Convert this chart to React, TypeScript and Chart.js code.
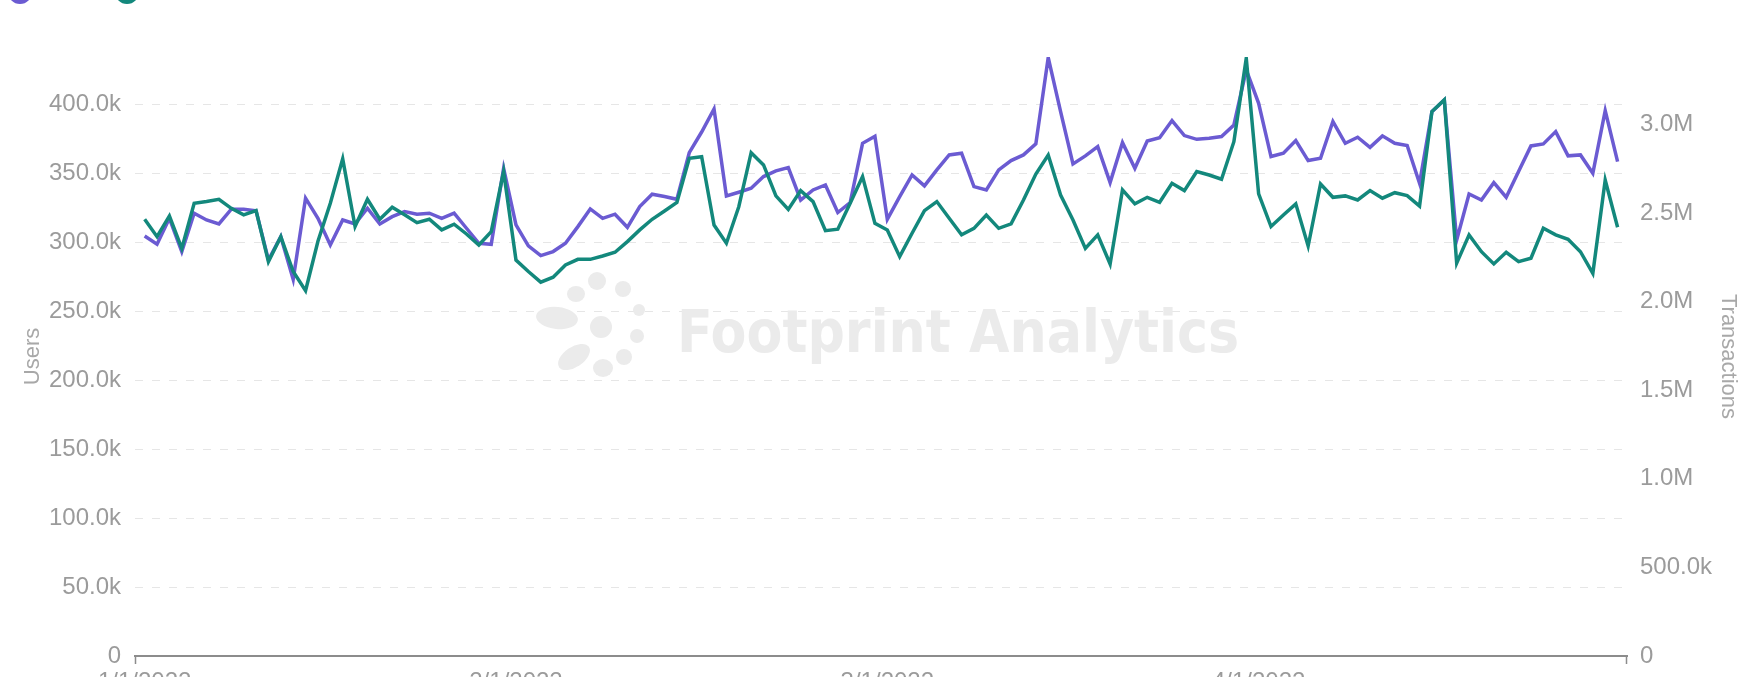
import React, { useEffect, useRef } from 'react';
import { Chart, registerables } from 'chart.js';

Chart.register(...registerables);

// Daily users (left axis)
const USERS = [
  304600, 298600, 317400, 293300, 321100, 316200, 313300, 324000, 324000, 322800,
  287200, 304100, 273200, 332000, 317400, 298100, 316200, 313300, 324700, 313300,
  318600, 322300, 320400, 321100, 317400, 321100, 310200, 299300, 298600, 353700,
  312600, 297400, 290400, 293300, 299300, 311400, 324200, 317400, 320400, 310900,
  325900, 334900, 333200, 331200, 365000, 380000, 396700, 333600, 336300, 339200,
  347700, 351800, 354200, 330700, 338000, 341600, 321600, 328800, 371800, 376900,
  316700, 333200, 348900, 340900, 352500, 363400, 364600, 340400, 338000, 352500,
  359300, 363400, 371400, 434000, 394800, 356900, 362700, 369400, 343300, 372300,
  353700, 373500, 375900, 388300, 377400, 374700, 375400, 376700, 385100, 425000,
  400800, 362200, 364600, 373800, 359300, 361000, 387600, 371800, 376200, 368900,
  377200, 371800, 370200, 342800, 394800, 403300, 301700, 335100, 330700, 343300,
  332700, 351300, 369900, 371400, 380300, 362700, 363400, 350100, 395500, 358500,
];

// Daily transactions (right axis)
const TRANSACTIONS = [
  2465000, 2367000, 2484000, 2301000, 2555000, 2565000, 2578000, 2527000, 2490000, 2514000,
  2226000, 2367000, 2170000, 2062000, 2341000, 2555000, 2806000, 2424000, 2578000, 2465000,
  2533000, 2490000, 2446000, 2465000, 2405000, 2437000, 2382000, 2320000, 2395000, 2734000,
  2235000, 2170000, 2110000, 2138000, 2207000, 2239000, 2239000, 2258000, 2279000, 2339000,
  2405000, 2465000, 2512000, 2560000, 2809000, 2818000, 2433000, 2330000, 2536000, 2841000,
  2772000, 2597000, 2521000, 2627000, 2565000, 2401000, 2409000, 2555000, 2706000, 2442000,
  2405000, 2254000, 2386000, 2514000, 2565000, 2471000, 2377000, 2414000, 2489000, 2414000,
  2439000, 2574000, 2720000, 2828000, 2602000, 2461000, 2301000, 2377000, 2213000, 2631000,
  2552000, 2589000, 2561000, 2668000, 2627000, 2734000, 2715000, 2691000, 2903000, 3374000,
  2608000, 2424000, 2489000, 2552000, 2314000, 2664000, 2589000, 2597000, 2574000, 2627000,
  2584000, 2615000, 2599000, 2540000, 3073000, 3139000, 2217000, 2377000, 2282000, 2213000,
  2279000, 2226000, 2245000, 2414000, 2377000, 2352000, 2282000, 2160000, 2687000, 2420000,
];

const SERIES_NAMES = ['Users', 'Transactions'];
const SERIES_COLORS = ['#6B5BD2', '#13887C'];

const X_TICK_INDEX = [0, 30, 60, 90];
const X_TICK_LABELS = ['1/1/2022', '2/1/2022', '3/1/2022', '4/1/2022'];

const USERS_TICKS = [0, 50000, 100000, 150000, 200000, 250000, 300000, 350000, 400000];
const TX_TICKS = [0, 500000, 1000000, 1500000, 2000000, 2500000, 3000000];
const USERS_MAX = 434400;
const TX_MAX = 3381000;

const FONT_FAMILY = '"Liberation Sans", Arial, Helvetica, sans-serif';
const TICK_COLOR = '#9b9b9b';

function fmt(v: number): string {
  if (v === 0) return '0';
  if (v >= 1000000) return (v / 1000000).toFixed(1) + 'M';
  return (v / 1000).toFixed(1) + 'k';
}

const watermarkPlugin = {
  id: 'watermark',
  beforeDatasetsDraw(chart: any) {
    const ctx = chart.ctx as CanvasRenderingContext2D;
    ctx.save();
    ctx.fillStyle = '#ebebeb';
    const petals: [number, number, number, number, number][] = [
      [601, 327, 11, 11, 0],
      [557, 318, 21, 11, 0.1],
      [574, 357, 18, 10, -0.6],
      [603, 368, 10, 9, 0],
      [576, 294, 9, 8, 0],
      [597, 281, 9, 9, 0],
      [623, 289, 8, 8, 0],
      [639, 310, 6, 6, 0],
      [637, 336, 7, 7, 0],
      [624, 357, 8, 8, 0],
    ];
    for (const [x, y, rx, ry, rot] of petals) {
      ctx.beginPath();
      ctx.ellipse(x, y, rx, ry, rot, 0, Math.PI * 2);
      ctx.fill();
    }
    const text = 'Footprint Analytics';
    ctx.font = 'bold 58px "DejaVu Sans", sans-serif';
    const w = ctx.measureText(text).width;
    const target = 562;
    ctx.translate(677, 352);
    ctx.scale(target / w, 1);
    ctx.textBaseline = 'alphabetic';
    ctx.fillText(text, 0, 0);
    ctx.restore();
  },
};

const endTicksPlugin = {
  id: 'endTicks',
  afterDraw(chart: any) {
    const { ctx, chartArea } = chart;
    const { left, right, bottom } = chartArea;
    ctx.save();
    ctx.strokeStyle = '#8c8c8c';
    ctx.lineWidth = 1.5;
    ctx.beginPath();
    ctx.moveTo(left + 0.5, bottom);
    ctx.lineTo(left + 0.5, bottom + 8);
    ctx.moveTo(right - 0.5, bottom);
    ctx.lineTo(right - 0.5, bottom + 8);
    ctx.stroke();
    ctx.restore();
  },
};

export default function App() {
  const canvasRef = useRef<HTMLCanvasElement | null>(null);

  useEffect(() => {
    if (!canvasRef.current) return;
    const tickFont = { family: FONT_FAMILY, size: 24 };
    const chart = new Chart(canvasRef.current, {
      type: 'line',
      data: {
        datasets: [
          {
            label: SERIES_NAMES[0],
            data: USERS.map((y, i) => ({ x: i, y })),
            yAxisID: 'y',
            borderColor: SERIES_COLORS[0],
            backgroundColor: SERIES_COLORS[0],
            borderWidth: 3.5,
            pointRadius: 0,
            tension: 0,
            order: 1,
          },
          {
            label: SERIES_NAMES[1],
            data: TRANSACTIONS.map((y, i) => ({ x: i, y })),
            yAxisID: 'y1',
            borderColor: SERIES_COLORS[1],
            backgroundColor: SERIES_COLORS[1],
            borderWidth: 3.5,
            pointRadius: 0,
            tension: 0,
            order: 0,
          },
        ],
      },
      options: {
        animation: false,
        responsive: true,
        maintainAspectRatio: false,
        layout: { padding: { top: 57, left: 0, right: 0, bottom: 0 } },
        plugins: { legend: { display: false }, tooltip: { enabled: false } },
        scales: {
          x: {
            type: 'linear',
            min: -0.78,
            max: 119.76,
            grid: { display: false, drawTicks: false },
            border: { display: true, color: '#8c8c8c', width: 2 },
            afterBuildTicks: (s: any) => {
              s.ticks = X_TICK_INDEX.map((v) => ({ value: v }));
            },
            afterFit: (s: any) => {
              s.height = 64;
            },
            ticks: {
              autoSkip: false,
              maxRotation: 0,
              minRotation: 0,
              padding: 12,
              color: TICK_COLOR,
              font: tickFont,
              callback: (v: any) => {
                const k = X_TICK_INDEX.indexOf(Number(v));
                return k >= 0 ? X_TICK_LABELS[k] : '';
              },
            },
          },
          y: {
            position: 'left',
            min: 0,
            max: USERS_MAX,
            afterBuildTicks: (s: any) => {
              s.ticks = USERS_TICKS.map((v) => ({ value: v }));
            },
            afterFit: (s: any) => {
              s.width = 135;
            },
            grid: { color: '#e6e6e6', lineWidth: 1, drawTicks: false },
            border: { display: false, dash: [8, 9] },
            ticks: {
              padding: 14,
              color: TICK_COLOR,
              font: tickFont,
              callback: (v: any) => fmt(Number(v)),
            },
            title: {
              display: true,
              text: SERIES_NAMES[0],
              color: '#a8a8a8',
              font: { family: FONT_FAMILY, size: 22 },
              padding: { top: 20, bottom: 0 },
            },
          },
          y1: {
            position: 'right',
            min: 0,
            max: TX_MAX,
            afterBuildTicks: (s: any) => {
              s.ticks = TX_TICKS.map((v) => ({ value: v }));
            },
            afterFit: (s: any) => {
              s.width = 134;
            },
            grid: { display: false, drawTicks: false },
            border: { display: false },
            ticks: {
              padding: 13,
              color: TICK_COLOR,
              font: tickFont,
              callback: (v: any) => fmt(Number(v)),
            },
            title: {
              display: true,
              text: SERIES_NAMES[1],
              color: '#a8a8a8',
              font: { family: FONT_FAMILY, size: 22 },
              padding: { top: 20, bottom: 0 },
            },
          },
        },
      } as any,
      plugins: [watermarkPlugin, endTicksPlugin],
    });
    return () => chart.destroy();
  }, []);

  return (
    <div
      style={{
        position: 'fixed',
        left: 0,
        top: 0,
        width: 1761,
        height: 677,
        overflow: 'hidden',
        background: '#ffffff',
      }}
    >
      <div style={{ position: 'absolute', left: 0, top: 0, width: 1761, height: 720 }}>
        <canvas ref={canvasRef} />
      </div>
      <div
        style={{
          position: 'absolute',
          left: 8,
          top: -21,
          display: 'flex',
          alignItems: 'center',
          height: 26,
          lineHeight: '26px',
          fontFamily: FONT_FAMILY,
          fontSize: 22,
          color: '#8f8f8f',
        }}
      >
        {SERIES_NAMES.map((name, i) => (
          <div key={name} style={{ display: 'flex', alignItems: 'center', marginRight: 10 }}>
            <span
              style={{
                display: 'inline-block',
                width: 24,
                height: 24,
                borderRadius: 12,
                background: SERIES_COLORS[i],
                marginRight: 16,
              }}
            />
            <span>{name}</span>
          </div>
        ))}
      </div>
    </div>
  );
}
